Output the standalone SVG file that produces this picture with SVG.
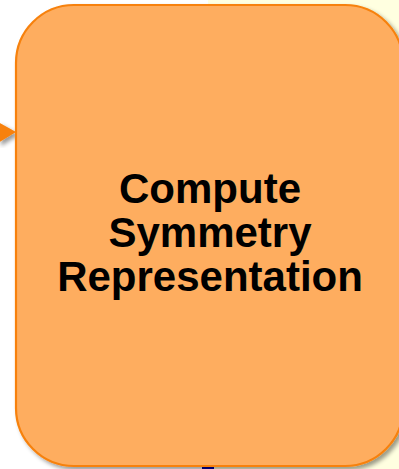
<svg xmlns="http://www.w3.org/2000/svg" width="399" height="469" viewBox="0 0 399 469">
  <style>
    .node { fill: #FEAD5F; stroke: #F7810B; stroke-width: 2.2; }
    .label { font-family: "Liberation Sans", Arial, sans-serif; font-weight: bold; font-size: 42px; fill: #000; text-anchor: middle; }
    .arrow { fill: #F7810B; }
  </style>
  <defs>
    <filter id="shadow" x="-10%" y="-10%" width="130%" height="130%">
      <feDropShadow dx="3" dy="3" stdDeviation="2" flood-color="#000" flood-opacity="0.4"/>
    </filter>
  </defs>
  <rect x="0" y="0" width="208" height="469" fill="#FFFFFF"/>
  <rect x="208" y="0" width="191" height="469" fill="#FFFFE0"/>
  <rect x="202" y="467" width="12" height="2" fill="#0000A0"/>
  <g id="connectors">
    <polygon class="arrow" points="-2,122 16,132 -2,143" filter="url(#shadow)"/>
  </g>
  <g id="node-compute">
    <rect class="node" x="16" y="5" width="387" height="461" rx="58" ry="58" filter="url(#shadow)"/>
    <text class="label" x="210" y="203">Compute</text>
    <text class="label" x="210" y="247">Symmetry</text>
    <text class="label" x="210" y="291">Representation</text>
  </g>
</svg>
